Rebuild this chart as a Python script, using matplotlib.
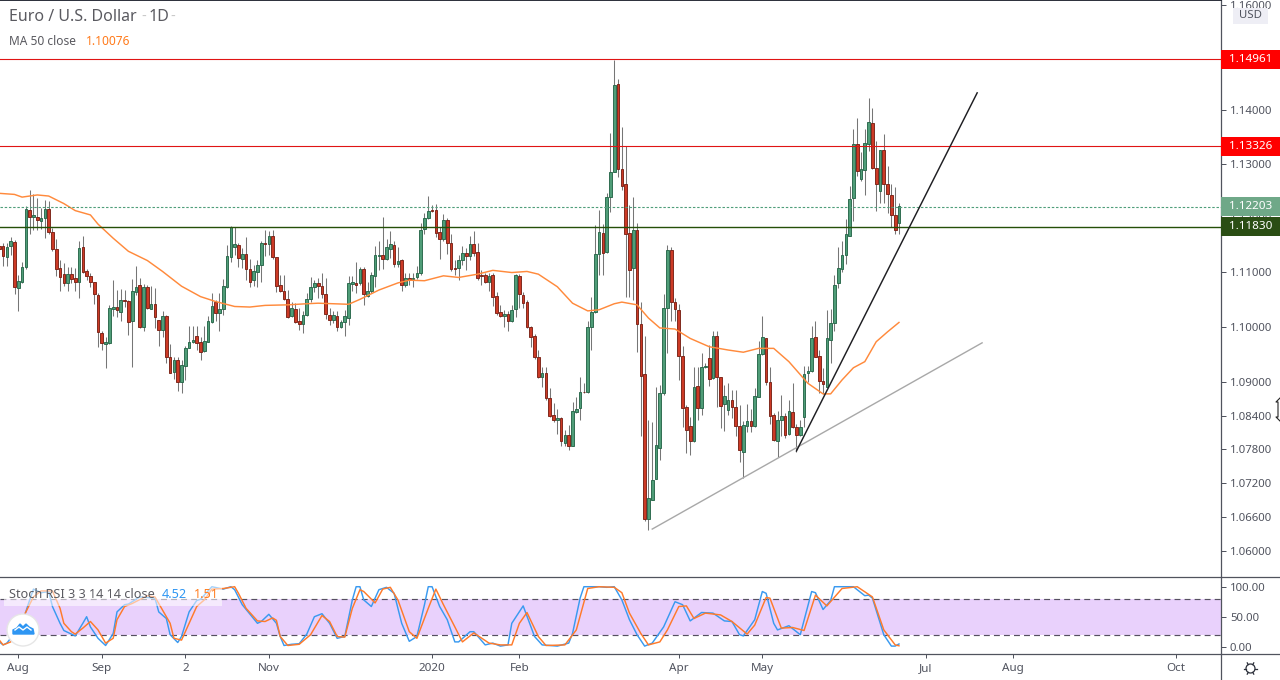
import matplotlib
matplotlib.use('Agg')
import numpy as np
import matplotlib.pyplot as plt
from matplotlib.patches import Rectangle, Circle, Polygon
from matplotlib.lines import Line2D
from matplotlib.transforms import IdentityTransform

plt.rcParams['font.family'] = ['Noto Sans', 'DejaVu Sans']

# daily bars, bar 0 is 1 Aug 2019
first_bar = -5
opens = [
    1.1148,1.1148,1.1127,1.1147,1.1155,1.1070,1.1082,1.1110,1.1214,1.1202,
    1.1201,1.1193,1.1200,1.1216,1.1173,1.1142,1.1107,1.1096,1.1079,1.1096,
    1.1089,1.1081,1.1146,1.1101,1.1093,1.1081,1.1058,1.0989,1.0969,1.0971,
    1.1033,1.1036,1.1027,1.1048,1.1047,1.1010,1.1064,1.1077,1.0999,1.1072,
    1.1033,1.1041,1.1012,1.0994,1.1020,1.0945,1.0918,1.0940,1.0900,1.0930,
    1.0961,1.0972,1.0983,1.0972,1.0957,1.0973,1.1008,1.1046,1.1025,1.1032,
    1.1073,1.1127,1.1145,1.1149,1.1124,1.1133,1.1106,1.1086,1.1100,1.1112,
    1.1154,1.1151,1.1167,1.1127,1.1076,1.1066,1.1050,1.1019,1.1032,1.1010,
    1.1006,1.1021,1.1051,1.1072,1.1079,1.1074,1.1060,1.1021,1.1013,1.1020,
    1.0999,1.1008,1.1016,1.1078,1.1079,1.1079,1.1105,1.1057,1.1065,1.1092,
    1.1129,1.1131,1.1124,1.1143,1.1149,1.1114,1.1122,1.1077,1.1089,1.1088,
    1.1090,1.1098,1.1179,1.1199,1.1215,1.1214,1.1173,1.1161,1.1196,1.1153,
    1.1107,1.1107,1.1122,1.1135,1.1129,1.1151,1.1137,1.1094,1.1094,1.1082,
    1.1094,1.1056,1.1027,1.1019,1.1023,1.1010,1.1032,1.1092,1.1058,1.1045,
    1.0999,1.0983,1.0945,1.0910,1.0916,1.0871,1.0841,1.0832,1.0836,1.0792,
    1.0806,1.0785,1.0846,1.0853,1.0883,1.0882,1.0999,1.1027,1.1133,1.1172,
    1.1136,1.1238,1.1285,1.1449,1.1291,1.1262,1.1171,1.1107,1.1177,1.1005,
    1.0914,1.0657,1.0691,1.0728,1.0782,1.0880,1.1034,1.1141,1.1045,1.1030,
    1.0947,1.0855,1.0822,1.0794,1.0893,1.0854,1.0927,1.0943,1.0907,1.0983,
    1.0909,1.0860,1.0850,1.0868,1.0855,1.0822,1.0776,1.0822,1.0830,1.0821,
    1.0874,1.0950,1.0979,1.0900,1.0842,1.0794,1.0832,1.0840,1.0807,1.0846,
    1.0819,1.0806,1.0838,1.0916,1.0920,1.0981,1.0947,1.0902,1.0892,1.0977,
    1.1007,1.1079,1.1106,1.1132,1.1167,1.1236,1.1337,1.1272,1.1289,1.1336,
    1.1376,1.1293,1.1249,1.1325,1.1262,1.1241,1.1204,1.1191]
highs = [
    1.1153,1.1153,1.1153,1.1164,1.1159,1.1095,1.1119,1.1222,1.1252,1.1244,
    1.1236,1.1218,1.1233,1.1230,1.1181,1.1161,1.1122,1.1116,1.1109,1.1109,
    1.1107,1.1156,1.1167,1.1105,1.1098,1.1082,1.1061,1.0992,1.0982,1.1040,
    1.1085,1.1067,1.1068,1.1067,1.1048,1.1088,1.1111,1.1089,1.1078,1.1076,
    1.1074,1.1070,1.1013,1.1028,1.1022,1.0969,1.0945,1.0946,1.0940,1.0966,
    1.1002,1.1001,1.1002,1.0982,1.1001,1.1019,1.1062,1.1048,1.1061,1.1088,
    1.1150,1.1184,1.1182,1.1153,1.1144,1.1164,1.1124,1.1113,1.1122,1.1156,
    1.1178,1.1175,1.1178,1.1127,1.1095,1.1095,1.1067,1.1046,1.1043,1.1034,
    1.1028,1.1061,1.1090,1.1085,1.1089,1.1098,1.1089,1.1034,1.1028,1.1028,
    1.1013,1.1031,1.1093,1.1093,1.1119,1.1110,1.1109,1.1081,1.1100,1.1147,
    1.1156,1.1201,1.1161,1.1176,1.1156,1.1146,1.1124,1.1098,1.1098,1.1098,
    1.1111,1.1191,1.1208,1.1240,1.1224,1.1226,1.1183,1.1207,1.1199,1.1170,
    1.1122,1.1132,1.1148,1.1144,1.1167,1.1175,1.1153,1.1104,1.1099,1.1098,
    1.1098,1.1063,1.1040,1.1030,1.1029,1.1040,1.1097,1.1097,1.1064,1.1049,
    1.1001,1.0987,1.0958,1.0927,1.0927,1.0889,1.0862,1.0852,1.0838,1.0814,
    1.0824,1.0864,1.0874,1.0910,1.0898,1.1010,1.1055,1.1187,1.1215,1.1188,
    1.1245,1.1357,1.1496,1.1459,1.1369,1.1333,1.1223,1.1238,1.1190,1.1046,
    1.0984,1.0832,1.0829,1.0891,1.0895,1.1060,1.1149,1.1146,1.1052,1.1042,
    1.0965,1.0859,1.0837,1.0927,1.0927,1.0953,1.0934,1.0967,1.0992,1.0992,
    1.0910,1.0895,1.0898,1.0886,1.0886,1.0859,1.0831,1.0861,1.0851,1.0889,
    1.0975,1.1020,1.0979,1.0927,1.0844,1.0849,1.0877,1.0844,1.0868,1.0898,
    1.0825,1.0832,1.0929,1.0929,1.1001,1.1011,1.0958,1.0925,1.1031,1.1032,
    1.1094,1.1146,1.1156,1.1198,1.1258,1.1365,1.1385,1.1322,1.1365,1.1424,
    1.1405,1.1343,1.1326,1.1356,1.1296,1.1262,1.1257,1.1228]
lows = [
    1.1138,1.1111,1.1111,1.1132,1.1060,1.1028,1.1079,1.1105,1.1169,1.1178,
    1.1178,1.1179,1.1163,1.1169,1.1138,1.1092,1.1065,1.1074,1.1065,1.1079,
    1.1065,1.1052,1.1098,1.1085,1.1073,1.1042,1.0964,1.0958,1.0926,1.0969,
    1.1019,1.1018,1.1010,1.1036,1.0986,1.0928,1.1058,1.0998,1.0992,1.1032,
    1.1032,1.0998,1.0966,1.0982,1.0935,1.0917,1.0905,1.0885,1.0880,1.0904,
    1.0961,1.0971,1.0958,1.0940,1.0955,1.0973,1.1007,1.1010,1.0992,1.1022,
    1.1070,1.1119,1.1132,1.1110,1.1107,1.1085,1.1072,1.1074,1.1073,1.1081,
    1.1130,1.1132,1.1124,1.1064,1.1064,1.1048,1.1016,1.1018,1.1007,1.0995,
    1.0989,1.1019,1.1046,1.1064,1.1052,1.1053,1.1014,1.1004,1.1007,1.0993,
    1.0998,1.0983,1.1004,1.1065,1.1062,1.1076,1.1040,1.1055,1.1062,1.1072,
    1.1104,1.1105,1.1122,1.1125,1.1109,1.1109,1.1066,1.1072,1.1076,1.1072,
    1.1087,1.1095,1.1170,1.1197,1.1211,1.1164,1.1124,1.1156,1.1133,1.1101,
    1.1095,1.1085,1.1113,1.1104,1.1122,1.1130,1.1085,1.1076,1.1079,1.1065,
    1.1037,1.1022,1.1018,1.0999,1.0992,1.1009,1.1017,1.1034,1.1034,1.0998,
    1.0964,1.0942,1.0908,1.0892,1.0868,1.0837,1.0828,1.0808,1.0786,1.0785,
    1.0779,1.0785,1.0845,1.0832,1.0880,1.0880,1.0958,1.1025,1.1095,1.1095,
    1.1135,1.1211,1.1285,1.1276,1.1251,1.1055,1.1055,1.1048,1.0955,1.0803,
    1.0654,1.0638,1.0691,1.0728,1.0761,1.0877,1.0953,1.1011,1.1010,1.0904,
    1.0820,1.0773,1.0769,1.0793,1.0832,1.0841,1.0926,1.0893,1.0905,1.0856,
    1.0818,1.0813,1.0841,1.0835,1.0804,1.0757,1.0729,1.0810,1.0810,1.0820,
    1.0874,1.0949,1.0895,1.0825,1.0794,1.0767,1.0803,1.0800,1.0806,1.0818,
    1.0776,1.0803,1.0820,1.0901,1.0919,1.0945,1.0880,1.0878,1.0892,1.0934,
    1.0992,1.1070,1.1100,1.1115,1.1166,1.1194,1.1277,1.1268,1.1241,1.1323,
    1.1290,1.1213,1.1228,1.1228,1.1208,1.1183,1.1169,1.1169]
closes = [
    1.1143,1.1129,1.1146,1.1157,1.1072,1.1083,1.1109,1.1216,1.1202,1.1204,
    1.1195,1.1199,1.1216,1.1173,1.1142,1.1105,1.1090,1.1079,1.1096,1.1088,
    1.1081,1.1144,1.1100,1.1092,1.1081,1.1060,1.0990,1.0970,1.0972,1.1034,
    1.1036,1.1030,1.1048,1.1047,1.1008,1.1065,1.1072,1.0999,1.1072,1.1034,
    1.1041,1.1017,1.0995,1.1020,1.0945,1.0917,1.0940,1.0900,1.0931,1.0961,
    1.0972,1.0976,1.0971,1.0955,1.0974,1.1010,1.1037,1.1025,1.1032,1.1074,
    1.1129,1.1183,1.1151,1.1125,1.1133,1.1106,1.1081,1.1102,1.1113,1.1154,
    1.1151,1.1167,1.1127,1.1075,1.1066,1.1050,1.1018,1.1034,1.1008,1.1006,
    1.1022,1.1050,1.1072,1.1079,1.1074,1.1059,1.1023,1.1013,1.1021,1.0999,
    1.1009,1.1020,1.1079,1.1081,1.1077,1.1105,1.1059,1.1065,1.1094,1.1131,
    1.1131,1.1123,1.1146,1.1151,1.1114,1.1120,1.1077,1.1089,1.1085,1.1089,
    1.1098,1.1177,1.1199,1.1212,1.1213,1.1172,1.1160,1.1196,1.1153,1.1105,
    1.1105,1.1122,1.1135,1.1129,1.1151,1.1135,1.1089,1.1092,1.1082,1.1092,
    1.1055,1.1025,1.1019,1.1023,1.1010,1.1030,1.1094,1.1059,1.1043,1.0999,
    1.0982,1.0945,1.0910,1.0916,1.0871,1.0839,1.0832,1.0836,1.0794,1.0806,
    1.0786,1.0848,1.0852,1.0882,1.0882,1.0999,1.1027,1.1133,1.1173,1.1135,
    1.1238,1.1284,1.1448,1.1291,1.1259,1.1169,1.1103,1.1177,1.1006,1.0912,
    1.0657,1.0693,1.0726,1.0788,1.0880,1.1034,1.1141,1.1046,1.1032,1.0947,
    1.0854,1.0814,1.0794,1.0892,1.0854,1.0927,1.0929,1.0905,1.0984,1.0909,
    1.0858,1.0875,1.0868,1.0856,1.0822,1.0778,1.0824,1.0830,1.0822,1.0875,
    1.0950,1.0981,1.0901,1.0840,1.0796,1.0832,1.0839,1.0806,1.0848,1.0819,
    1.0806,1.0819,1.0914,1.0921,1.0979,1.0946,1.0903,1.0896,1.0979,1.1007,
    1.1077,1.1108,1.1131,1.1169,1.1234,1.1337,1.1287,1.1291,1.1338,1.1378,
    1.1293,1.1262,1.1325,1.1262,1.1243,1.1204,1.1177,1.1221]

ma_bars = [-5,-1,1,5,8,12,15,19,21,25,29,34,38,43,48,52,57,61,65,71,76,79,83,87,90,95,100,103,107,112,116,121,
           125,130,134,137,142,146,150,153,157,159,163,166,169,173,177,182,187,191,195,199,203,208,212,214,217,220,223,226,229,232]
ma_vals = [1.1245,1.1243,1.1238,1.1242,1.1240,1.1226,1.1213,1.1205,1.1188,1.1162,1.1138,1.1121,1.1101,1.1074,1.1055,
           1.1046,1.1037,1.1036,1.1039,1.1040,1.1042,1.1043,1.1042,1.1041,1.1050,1.1067,1.1080,1.1085,1.1084,1.1093,
           1.1090,1.1096,1.1103,1.1099,1.1101,1.1096,1.1073,1.1043,1.1029,1.1031,1.1042,1.1045,1.1040,1.1016,1.0998,
           1.0996,1.0979,1.0964,1.0958,1.0954,1.0961,1.0961,1.0937,1.0898,1.0879,1.0879,1.0904,1.0926,1.0937,1.0973,1.0991,1.1008]

k_bars = [-5,-4,-3,1,3,4,6,8,9,11,12,15,17,18,19,21,23,25,26,28,29,32,36,37,39,40,42,43,45,47,48,51,54,56,57,59,63,64,66,68,69,70,72,
          74,76,78,80,82,84,86,88,89,90,91,93,95,97,99,101,103,105,107,108,109,111,113,115,116,119,120,123,125,127,129,130,133,136,138,142,145,146,148,149,153,
          155,157,159,161,163,165,167,170,173,175,177,180,183,186,188,190,191,194,196,197,199,200,203,206,209,210,212,214,215,220,223,224,225,228,230,231,232]
k_vals = [8,3,6,39,78,96,90,92,67,39,27,18,39,50,33,14,2,22,58,70,71,83,81,58,47,20,7,17,58,77,79,100,96,100,95,70,39,42,54,39,17,2,4,
          5,21,50,55,39,14,17,78,100,100,78,67,95,99,89,39,9,17,70,100,100,67,45,8,8,25,25,3,6,1,3,39,68,17,3,1,6,22,81,100,100,
          99,100,78,45,20,1,6,33,75,70,43,57,56,43,42,20,18,45,92,89,39,28,35,20,92,90,62,77,100,100,85,86,81,20,1,1,4.52]
d_bars = [-5,-4,-2,4,6,9,11,12,14,15,17,19,21,23,25,26,28,30,34,36,38,40,41,43,44,47,49,51,54,57,58,60,63,65,67,68,69,71,
          74,77,80,82,84,86,88,90,91,94,96,98,100,103,105,108,110,112,115,117,120,124,127,130,132,134,137,139,144,147,150,153,
          157,159,161,164,166,169,171,174,176,178,181,185,188,192,194,197,198,201,204,207,210,213,217,221,225,228,231,232]
d_vals = [11,3,8,83,93,93,64,39,25,21,31,42,28,6,14,45,67,72,85,83,61,39,14,11,25,67,78,96,97,100,89,64,43,42,48,44,17,2,
          4,20,52,42,17,16,64,95,92,73,96,99,78,25,14,64,96,70,33,8,23,6,3,3,39,57,17,2,3,28,97,100,
          99,90,56,22,3,8,28,67,68,47,56,53,42,21,36,82,81,31,32,27,86,68,97,100,83,28,3,1.51]

price_ticks = [1.06, 1.066, 1.072, 1.078, 1.084, 1.09, 1.10, 1.11, 1.12, 1.13, 1.14, 1.16]
stoch_ticks = [0, 50, 100]
time_ticks = [0, 22, 44, 66, 109, 132, 174, 196, 239, 262, 305]
time_labels = ['Aug', 'Sep', '2', 'Nov', '2020', 'Feb', 'Apr', 'May', 'Jul', 'Aug', 'Oct']

resistance = [1.14961, 1.13326]
last_price = 1.12203
support = 1.11830
steep_x = [205, 252.6]
steep_y = [1.0777, 1.1433]
long_x = [167, 253.9]
long_y = [1.0639, 1.0971]

GREY = '#50535e'
W, H = 1280, 680
fig = plt.figure(figsize=(W/100, H/100), dpi=100, facecolor='white')
ax = fig.add_axes([0, (H-577)/H, 1220.5/W, 577/H])
ax2 = fig.add_axes([0, (H-653.7)/H, 1220.5/W, 76.7/H])

# candles
bars = np.arange(first_bar, first_bar+len(opens))
o = np.array(opens); h = np.array(highs); l = np.array(lows); c = np.array(closes)
up = c >= o
ax.set_yscale('log')
ax.vlines(bars, l, h, color='#767676', lw=0.75, zorder=2)
ax.bar(bars[up], (c-o)[up], bottom=o[up], width=0.7, color='#4f9d78', edgecolor='#28674a', lw=0.65, zorder=3)
ax.bar(bars[~up], (o-c)[~up], bottom=c[~up], width=0.7, color='#cc3a26', edgecolor='#7a2216', lw=0.65, zorder=3)
ax.plot(ma_bars, ma_vals, color='#ff8a3c', lw=1.05, zorder=4)

for p in resistance:
    ax.axhline(p, color='#e01414', lw=0.8, zorder=5)
ax.axhline(last_price, color='#4f9e7a', lw=0.8, ls=(0, (2.2, 1.6)), zorder=5)
ax.axhline(support, color='#245008', lw=1.0, zorder=5)
ax.plot(long_x, long_y, color='#a8a8a8', lw=1.0, zorder=5)
ax.plot(steep_x, steep_y, color='#1e1e22', lw=1.05, zorder=6)

ax.set_xlim(-4.82, 316.7)
ax.set_ylim(1.05552, 1.16095)
ax.minorticks_off()
ax.yaxis.tick_right()
ax.set_yticks(price_ticks)
ax.set_yticklabels(['%.5f' % p for p in price_ticks])
ax.yaxis.set_minor_locator(plt.NullLocator())
ax.tick_params(axis='y', length=3.6, width=0.72, color=GREY, labelcolor=GREY, labelsize=8.2, pad=3.2)
ax.set_xticks([])

# stoch rsi pane
ax2.axhspan(20, 80, color='#e9d1fc', lw=0, zorder=1)
ax2.axhline(80, color='#555060', lw=0.85, ls=(0, (5, 3.5)), zorder=2)
ax2.axhline(20, color='#555060', lw=0.85, ls=(0, (5, 3.5)), zorder=2)
ax2.plot(k_bars, k_vals, color='#3a9af0', lw=1.05, zorder=3)
ax2.plot(d_bars, d_vals, color='#ff7a2a', lw=1.05, zorder=4)
ax2.set_xlim(-4.82, 316.7)
ax2.set_ylim(-11.67, 116.2)
ax2.yaxis.tick_right()
ax2.set_yticks(stoch_ticks)
ax2.set_yticklabels(['%.2f' % v for v in stoch_ticks])
ax2.tick_params(axis='y', length=3.6, width=0.72, color=GREY, labelcolor=GREY, labelsize=8.2, pad=3.2)
ax2.set_xticks(time_ticks)
ax2.set_xticklabels(time_labels)
ax2.tick_params(axis='x', length=3, width=0.72, color=GREY, labelcolor=GREY, labelsize=8.4, pad=4)
for lab in ax2.get_xticklabels():
    if lab.get_text() == '2020':
        lab.set_fontweight('bold')

for a in (ax, ax2):
    a.spines['left'].set_visible(False)
    a.spines['right'].set_color(GREY)
    a.spines['right'].set_linewidth(0.9)
ax.spines['top'].set_color('#2a2e39')
ax.spines['top'].set_linewidth(1.4)
ax.spines['bottom'].set_visible(False)
ax2.spines['top'].set_visible(False)
ax2.spines['bottom'].set_visible(False)


def fig_rect(x, y, w, h, **kw):
    fig.add_artist(Rectangle((x, H-y-h), w, h, transform=IdentityTransform(), **kw))


def fig_line(xs, ys, **kw):
    fig.add_artist(Line2D(xs, [H-v for v in ys], transform=IdentityTransform(), **kw))


def fig_text(x, y, s, **kw):
    fig.text(x/W, 1-y/H, s, va='center', **kw)


# pane separators reach across the price scale
fig_line([0, W], [577, 577], color=GREY, lw=0.9)
fig_line([0, W], [653.7, 653.7], color=GREY, lw=0.9)
fig_line([1220.5, 1220.5], [653.7, H], color=GREY, lw=0.9)


def price_tag(price, text, bg):
    y = H - ax.transData.transform((0, price))[1]
    fig_rect(1221, y-9.5, 59, 19, facecolor=bg, lw=0, zorder=2)
    fig_text(1229.5, y, text, color='white', fontsize=8.4, fontweight='bold', zorder=3)


price_tag(resistance[0], '1.14961', '#ff0000')
price_tag(resistance[1], '1.13326', '#ff0000')
price_tag(last_price, '1.12203', '#6fa888')
price_tag(support, '1.11830', '#2a4d14')

fig_rect(1233, 8, 35, 16, facecolor='#eeeef5', lw=0, zorder=2)
fig_text(1250.5, 16, 'USD', color='#50535e', fontsize=8.2, ha='center', zorder=3)

fig_text(9, 17, 'Euro / U.S. Dollar', color='#5a5a60', fontsize=11.5)
fig_text(141, 17, '-', color='#c8c8c8', fontsize=10.5)
fig_text(149, 17, '1D', color='#5a5a60', fontsize=11.5)
fig_text(170, 17, '-', color='#c8c8c8', fontsize=10.5)
fig_text(9, 41.5, 'MA 50 close', color='#5a5a60', fontsize=8.6)
fig_text(86, 41.5, '1.10076', color='#ff7a1a', fontsize=8.6)

fig_rect(4, 586, 218, 20, facecolor='white', alpha=0.55, lw=0, zorder=1)
fig_text(9, 594, 'Stoch RSI 3 3 14 14 close', color='#5a5a60', fontsize=9.1, zorder=3)
fig_text(162, 594, '4.52', color='#2e96f3', fontsize=9.1, zorder=3)
fig_text(194, 594, '1.51', color='#ff7a1a', fontsize=9.1, zorder=3)

# logo badge
fig.add_artist(Circle((23, H-630), 16, transform=IdentityTransform(), facecolor='white', edgecolor='#e6e6e6', lw=1, zorder=2))
cloud = [(13, 634), (13, 630), (17, 628), (20, 624), (23, 627), (26, 624), (29, 627), (33, 629), (34, 634)]
fig.add_artist(Polygon([(x, H-y) for x, y in cloud], closed=True, transform=IdentityTransform(),
                       facecolor='#2e96f3', edgecolor='#2e96f3', lw=1, zorder=3))
fig_line([15, 19, 23, 27, 31], [630, 627, 630, 627, 630], color='white', lw=1.0, zorder=4)

# gear
fig.add_artist(Circle((1250.5, H-668.5), 4.5, transform=IdentityTransform(), facecolor='white', edgecolor='#2a2e39', lw=0.9, zorder=3))
for ang in np.arange(0, 360, 60):
    dx, dy = np.cos(np.radians(ang)), np.sin(np.radians(ang))
    fig_line([1250.5+4.5*dx, 1250.5+6.5*dx], [668.5+4.5*dy, 668.5+6.5*dy], color='#2a2e39', lw=0.9, zorder=3)

# mouse cursor at the right edge
cursor = [(1280, 398), (1276, 402), (1278, 402), (1278, 417), (1276, 417), (1280, 421)]
fig_line([p[0] for p in cursor], [p[1] for p in cursor], color='#222222', lw=0.8, zorder=3)

fig.savefig('out.png', dpi=100)
